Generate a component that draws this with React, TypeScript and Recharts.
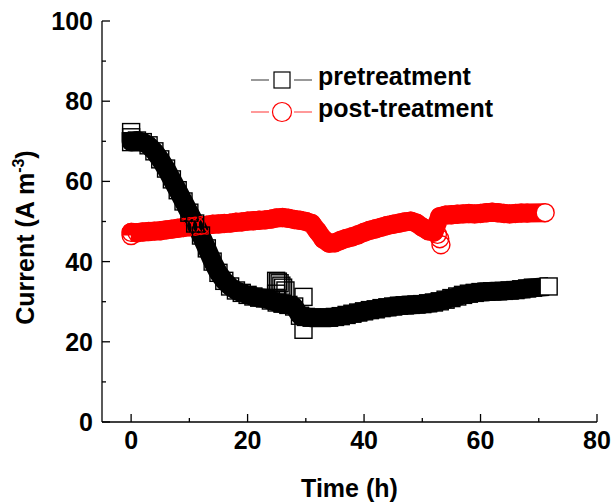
import React from 'react'
import { LineChart, Line, XAxis, YAxis, Legend } from 'recharts'

// pretreatment (black squares)
const preTime = [
  0, 0, 0, 1, 2, 3, 4, 5, 6, 7, 8, 9, 10, 11, 12, 13, 14, 15, 16, 17, 18, 19, 20,
  21, 22, 23, 24, 25, 26, 27, 28, 29, 30, 31, 32, 33, 34, 35, 36, 37, 38, 39, 40,
  41, 42, 43, 44, 45, 46, 47, 48, 49, 50, 51, 52, 53, 54, 55, 56, 57, 58, 59, 60,
  61, 62, 63, 64, 65, 66, 67, 68, 69, 71.7
]
const preCurrent = [
  72.3, 71, 69.8, 70.2, 69.8, 69, 67.5, 65.5, 63.2, 60.5, 57.8, 55, 52.2, 49.5, 46.5,
  43.3, 40, 37.2, 35.2, 33.8, 32.8, 32.2, 31.7, 31.3, 31, 30.8, 30.3, 29.8, 29.5, 29.2,
  28.8, 26.5, 26.2, 26, 26, 26, 26, 26.2, 26.4, 26.7, 27, 27.3, 27.6, 27.9, 28.1, 28.4,
  28.6, 28.8, 29, 29.1, 29.2, 29.3, 29.4, 29.6, 29.8, 30.1, 30.5, 30.9, 31.3, 31.7, 32,
  32.2, 32.4, 32.5, 32.6, 32.6, 32.7, 32.8, 32.9, 33.1, 33.3, 33.5, 33.8
]
// scattered pretreatment readings
const preSpikeTime = [24.9, 25.1, 24.9, 25.2, 25.5, 25.8, 26.1, 26.5, 29.6, 29.6]
const preSpikeCurrent = [32, 30.5, 35.2, 35, 34.6, 34, 33.5, 32.8, 31.2, 23]

// post-treatment (red circles)
const postTime = [
  0, 0, 1, 2, 3, 4, 5, 6, 7, 8, 9, 10, 11, 12, 13, 14, 15, 16, 17, 18, 19, 20,
  21, 22, 23, 24, 25, 26, 27, 28, 29, 30, 31, 32, 33, 34, 35, 36, 37, 38, 39, 40,
  41, 42, 43, 44, 45, 46, 47, 48, 49, 50, 51, 52, 53, 54, 55, 56, 57, 58, 59, 60,
  61, 62, 63, 64, 65, 66, 67, 68, 71.1
]
const postCurrent = [
  46.5, 47.3, 47.2, 47.4, 47.5, 47.6, 47.7, 47.9, 48.1, 48.3, 48.5, 48.7, 48.8, 49,
  49.1, 49.3, 49.4, 49.5, 49.6, 49.8, 49.9, 50.1, 50.2, 50.3, 50.4, 50.6, 50.9, 51,
  50.8, 50.5, 50.3, 50, 49.5, 47.6, 45.6, 44.6, 44.7, 45.3, 45.8, 46.2, 46.7, 47.3,
  47.8, 48.2, 48.6, 49, 49.3, 49.6, 49.9, 50.1, 49.6, 48.6, 47.7, 47.4, 51.2, 51.6,
  51.7, 51.8, 51.9, 52, 51.9, 52, 52.2, 52.3, 52.2, 52, 51.9, 52, 52.1, 52.1, 52.2
]
const postSpikeTime = [52.6, 53, 53.2]
const postSpikeCurrent = [46.8, 45.7, 44.2]

const xTicks = [0, 10, 20, 30, 40, 50, 60, 70, 80]
const yTicks = [0, 10, 20, 30, 40, 50, 60, 70, 80, 90, 100]

const toRows = (t: number[], v: number[]) => t.map((time, i) => ({ time, current: v[i] }))

const font = '"Liberation Sans", Arial, Helvetica, sans-serif'
const textStyle = { fontFamily: font, fontWeight: 700, fontSize: 25, fill: '#000' }

const squareDot = (lastIndex: number) => (props: any) => {
  const { cx, cy, index } = props
  return (
    <rect
      key={`sq-${lastIndex}-${index}`}
      x={cx - 8.5}
      y={cy - 8.5}
      width={17}
      height={17}
      fill={index === lastIndex ? '#fff' : 'none'}
      stroke="#000"
      strokeWidth={1.4}
    />
  )
}

const circleDot = (lastIndex: number) => (props: any) => {
  const { cx, cy, index } = props
  return (
    <circle
      key={`ci-${lastIndex}-${index}`}
      cx={cx}
      cy={cy}
      r={9}
      fill={index === lastIndex ? '#fff' : 'none'}
      stroke="#ff0000"
      strokeWidth={1.4}
    />
  )
}

const BottomTick = ({ x, y, payload }: any) => {
  const major = payload.value % 20 === 0
  return (
    <g>
      <line x1={x} y1={y} x2={x} y2={y - (major ? 8 : 4)} stroke="#000" strokeWidth={1.3} />
      {major && (
        <text x={x} y={y + 27} textAnchor="middle" style={textStyle}>
          {payload.value}
        </text>
      )}
    </g>
  )
}

const TopTick = ({ x, y, payload }: any) => {
  const major = payload.value % 20 === 0
  return <line x1={x} y1={y} x2={x} y2={y + (major ? 8 : 4)} stroke="#000" strokeWidth={1.3} />
}

const LeftTick = ({ x, y, payload }: any) => {
  const major = payload.value % 20 === 0
  return (
    <g>
      <line x1={x} y1={y} x2={x + (major ? 8 : 4)} y2={y} stroke="#000" strokeWidth={1.3} />
      {major && (
        <text x={x - 9} y={y} dy="0.36em" textAnchor="end" style={textStyle}>
          {payload.value}
        </text>
      )}
    </g>
  )
}

const RightTick = ({ x, y, payload }: any) => {
  const major = payload.value % 20 === 0
  return <line x1={x} y1={y} x2={x - (major ? 8 : 4)} y2={y} stroke="#000" strokeWidth={1.3} />
}

const LegendBox = () => (
  <svg width={260} height={70}>
    <line x1={1} y1={20} x2={19} y2={20} stroke="#555" strokeWidth={1.2} />
    <line x1={44} y1={20} x2={62} y2={20} stroke="#555" strokeWidth={1.2} />
    <rect x={24} y={12} width={16} height={16} fill="none" stroke="#000" strokeWidth={1.2} />
    <text x={68} y={25} style={textStyle}>pretreatment</text>
    <line x1={1} y1={52} x2={19} y2={52} stroke="#ff5555" strokeWidth={1.2} />
    <line x1={44} y1={52} x2={62} y2={52} stroke="#ff5555" strokeWidth={1.2} />
    <circle cx={32} cy={52} r={9.5} fill="none" stroke="#ff0000" strokeWidth={1.2} />
    <text x={68} y={57} style={textStyle}>post-treatment</text>
  </svg>
)

export default function App() {
  return (
    <div style={{ position: 'absolute', left: 0, top: 0, width: 612, height: 504, background: '#fff' }}>
      <LineChart width={612} height={504} margin={{ top: 21, right: 15, bottom: 0, left: 0 }}>
        <XAxis
          dataKey="time"
          type="number"
          domain={[-5, 80]}
          ticks={xTicks}
          interval={0}
          height={82}
          tickSize={0}
          tickMargin={0}
          tick={<BottomTick />}
          axisLine={{ stroke: '#000', strokeWidth: 1.3 }}
          allowDataOverflow
          label={(p: any) => (
            <text x={p.viewBox.x + p.viewBox.width / 2} y={p.viewBox.y + 75} textAnchor="middle" style={textStyle}>
              Time (h)
            </text>
          )}
        />
        <XAxis
          xAxisId="top"
          orientation="top"
          dataKey="time"
          type="number"
          domain={[-5, 80]}
          ticks={xTicks}
          interval={0}
          height={0}
          tickSize={0}
          tickMargin={0}
          tick={<TopTick />}
          axisLine={{ stroke: '#000', strokeWidth: 1.3 }}
          allowDataOverflow
        />
        <YAxis
          type="number"
          domain={[0, 100]}
          ticks={yTicks}
          interval={0}
          width={102}
          tickSize={0}
          tickMargin={0}
          tick={<LeftTick />}
          axisLine={{ stroke: '#000', strokeWidth: 1.3 }}
          allowDataOverflow
          label={(p: any) => {
            const cx = p.viewBox.x + 33.5
            const cy = p.viewBox.y + p.viewBox.height / 2 + 16
            return (
              <text x={cx} y={cy} transform={`rotate(-90 ${cx} ${cy})`} textAnchor="middle" style={textStyle}>
                Current (A m
                <tspan dy={-10} fontSize={16}>-3</tspan>
                <tspan dy={10}>)</tspan>
              </text>
            )
          }}
        />
        <YAxis
          yAxisId="right"
          orientation="right"
          type="number"
          domain={[0, 100]}
          ticks={yTicks}
          interval={0}
          width={0}
          tickSize={0}
          tickMargin={0}
          tick={<RightTick />}
          axisLine={{ stroke: '#000', strokeWidth: 1.3 }}
          allowDataOverflow
        />
        <Legend
          layout="vertical"
          align="center"
          verticalAlign="middle"
          wrapperStyle={{ left: 250, top: 60, width: 260, height: 70 }}
          content={() => <LegendBox />}
        />
        <Line
          data={toRows(postTime, postCurrent)}
          dataKey="current"
          name="post-treatment"
          stroke="#ff0000"
          strokeWidth={19}
          strokeLinejoin="round"
          dot={circleDot(postTime.length - 1)}
          isAnimationActive={false}
        />
        <Line
          data={toRows(postSpikeTime, postSpikeCurrent)}
          dataKey="current"
          stroke="none"
          legendType="none"
          dot={circleDot(-1)}
          isAnimationActive={false}
        />
        <Line
          data={toRows(preTime, preCurrent)}
          dataKey="current"
          name="pretreatment"
          stroke="#000"
          strokeWidth={19}
          strokeLinejoin="round"
          dot={squareDot(preTime.length - 1)}
          isAnimationActive={false}
        />
        <Line
          data={toRows(preSpikeTime, preSpikeCurrent)}
          dataKey="current"
          stroke="none"
          legendType="none"
          dot={squareDot(-1)}
          isAnimationActive={false}
        />
      </LineChart>
    </div>
  )
}
